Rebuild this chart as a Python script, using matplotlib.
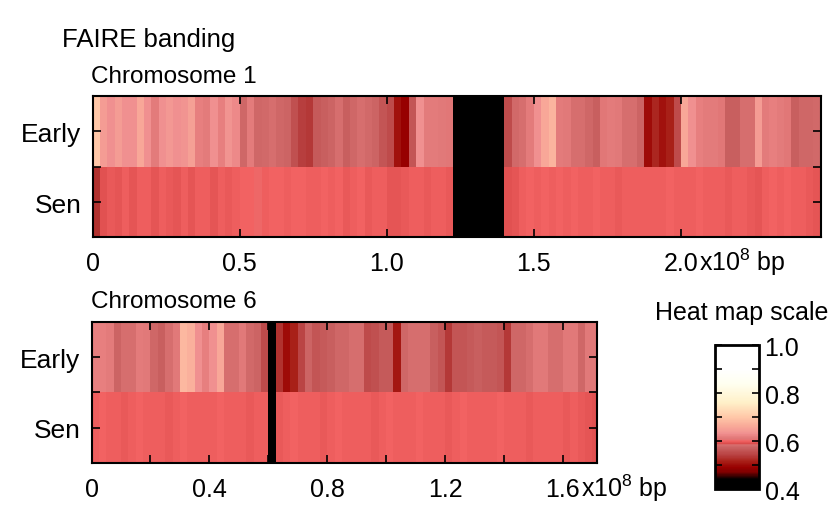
import numpy as np
import matplotlib
matplotlib.use('Agg')
import matplotlib.pyplot as plt
from matplotlib.colors import LinearSegmentedColormap, Normalize
from matplotlib.ticker import FixedLocator

plt.rcParams['font.family'] = ['Liberation Sans', 'DejaVu Sans']
plt.rcParams['mathtext.fontset'] = 'custom'
plt.rcParams['mathtext.rm'] = 'Liberation Sans'
plt.rcParams['mathtext.it'] = 'Liberation Sans'

nan = np.nan
bin_mb = 2.5  # bin width in Mb

# chromosome 1, 2.5 Mb bins (nan = no data, drawn black)
chr1_early = [0.70, 0.645, 0.63, 0.645, 0.63, 0.63, 0.66, 0.63, 0.615, 0.63,
              0.64, 0.63, 0.635, 0.65, 0.62, 0.615, 0.63, 0.62, 0.635, 0.625,
              0.578, 0.615, 0.578, 0.58, 0.583, 0.578, 0.574, 0.555, 0.54, 0.535,
              0.565, 0.57, 0.574, 0.583, 0.57, 0.578, 0.585, 0.58, 0.574, 0.56,
              0.55, 0.505, 0.49, 0.56, 0.63, 0.615, 0.615, 0.612, 0.61,
              nan, nan, nan, nan, nan, nan, nan,
              0.55, 0.58, 0.583, 0.615, 0.63, 0.66, 0.675, 0.615, 0.612, 0.583,
              0.583, 0.578, 0.57, 0.61, 0.615, 0.612, 0.585, 0.583, 0.574, 0.50,
              0.52, 0.505, 0.515, 0.55, 0.66, 0.63, 0.62, 0.615, 0.615, 0.61,
              0.57, 0.57, 0.583, 0.583, 0.645, 0.615, 0.618, 0.615, 0.61, 0.57,
              0.578, 0.578, 0.58]
chr1_sen = [0.53, 0.592, 0.596, 0.594, 0.598, 0.593, 0.597, 0.599, 0.594, 0.598,
            0.596, 0.593, 0.598, 0.594, 0.597, 0.599, 0.593, 0.597, 0.595, 0.598,
            0.601, 0.600, 0.602, 0.599, 0.601, 0.600, 0.598, 0.600, 0.601, 0.599,
            0.597, 0.600, 0.598, 0.600, 0.596, 0.599, 0.600, 0.595, 0.597, 0.598,
            0.594, 0.593, 0.595, 0.597, 0.598, 0.596, 0.598, 0.597, 0.596,
            nan, nan, nan, nan, nan, nan, nan,
            0.590, 0.593, 0.597, 0.600, 0.599, 0.601, 0.599, 0.600, 0.598, 0.600,
            0.597, 0.599, 0.600, 0.598, 0.599, 0.596, 0.598, 0.597, 0.599, 0.597,
            0.598, 0.599, 0.600, 0.598, 0.599, 0.598, 0.600, 0.597, 0.599, 0.598,
            0.596, 0.597, 0.599, 0.595, 0.593, 0.598, 0.600, 0.599, 0.601, 0.598,
            0.597, 0.596, 0.594]

# chromosome 6
chr6_early = [0.62, 0.62, 0.615, 0.574, 0.583, 0.583, 0.615, 0.612, 0.578, 0.57,
              0.583, 0.612, 0.68, 0.67, 0.63, 0.62, 0.63, 0.66, 0.583, 0.585,
              0.612, 0.58, 0.574, 0.55, nan, 0.53, 0.50, 0.515, 0.545, 0.574,
              0.56, 0.565, 0.57, 0.578, 0.578, 0.583, 0.585, 0.55, 0.555, 0.565,
              0.565, 0.51, 0.578, 0.585, 0.583, 0.585, 0.57, 0.56, 0.535, 0.56,
              0.56, 0.565, 0.57, 0.565, 0.565, 0.56, 0.535, 0.578, 0.578, 0.583,
              0.612, 0.612, 0.583, 0.583, 0.612, 0.612, 0.578, 0.612, 0.612]
chr6_sen = [0.598, 0.600, 0.597, 0.599, 0.596, 0.598, 0.600, 0.597, 0.599, 0.598,
            0.596, 0.599, 0.600, 0.598, 0.597, 0.599, 0.598, 0.600, 0.597, 0.598,
            0.599, 0.596, 0.598, 0.597, nan, 0.596, 0.598, 0.600, 0.597, 0.599,
            0.598, 0.596, 0.599, 0.600, 0.598, 0.597, 0.599, 0.598, 0.596, 0.598,
            0.600, 0.599, 0.597, 0.598, 0.600, 0.598, 0.597, 0.599, 0.596, 0.598,
            0.600, 0.598, 0.597, 0.599, 0.598, 0.600, 0.597, 0.598, 0.599, 0.596,
            0.598, 0.597, 0.599, 0.598, 0.596, 0.597, 0.595, 0.593, 0.590]

rows = ['Sen', 'Early']
chr1_len = 247.5
chr6_len = 171.5
chr1_ticks = [0, 50, 100, 150, 200]
chr1_labels = ['0', '0.5', '1.0', '1.5', '2.0']
chr6_ticks = [0, 40, 80, 120, 160]
chr6_labels = ['0', '0.4', '0.8', '1.2', '1.6']
chr6_minor = [20, 60, 100, 140]
cb_ticks = [0.4, 0.6, 0.8, 1.0]
cb_labels = ['0.4', '0.6', '0.8', '1.0']

# heat map colours, stops given on the 0.4..1.0 scale
stops = [(0.40, '#000000'), (0.44, '#000000'), (0.47, '#800000'),
         (0.49, '#980000'), (0.515, '#a82018'), (0.54, '#b84040'),
         (0.57, '#c86060'), (0.585, '#d87070'), (0.588, '#dc4c4c'),
         (0.60, '#f26262'), (0.61, '#e07878'), (0.62, '#e88080'),
         (0.63, '#f09090'), (0.66, '#f8a898'), (0.70, '#ffc8a8'),
         (0.76, '#fff0c8'), (0.84, '#fffff0'), (0.90, '#ffffff'),
         (1.00, '#ffffff')]
cmap = LinearSegmentedColormap.from_list(
    'faire', [((v - 0.4) / 0.6, c) for v, c in stops])
cmap.set_bad('black')
norm = Normalize(0.4, 1.0)

fig = plt.figure(figsize=(8.35, 5.06), dpi=100)
fs = 18


def draw_chrom(rect, early, sen, length, ticks, labels, minor=None):
    ax = fig.add_axes(rect)
    data = np.ma.masked_invalid(np.array([sen, early]))
    xe = np.arange(len(early) + 1) * bin_mb
    ax.pcolormesh(xe, [0, 1, 2], data, cmap=cmap, norm=norm)
    ax.set_xlim(0, length)
    ax.set_ylim(0, 2)
    ax.set_xticks(ticks)
    ax.set_xticklabels(labels)
    if minor:
        ax.xaxis.set_minor_locator(FixedLocator(minor))
    ax.set_yticks([0.5, 1.5])
    ax.set_yticklabels(rows)
    ax.yaxis.set_minor_locator(FixedLocator([1.0]))
    ax.tick_params(which='both', direction='in', top=True, right=True,
                   length=6, width=1.2)
    ax.tick_params(axis='x', labelsize=fs, pad=10)
    ax.tick_params(axis='y', labelsize=19, pad=8)
    for s in ax.spines.values():
        s.set_linewidth(1.5)
    return ax


ax1 = draw_chrom([0.1108, 0.5287, 0.8721, 0.2796], chr1_early, chr1_sen,
                 chr1_len, chr1_ticks, chr1_labels)
ax6 = draw_chrom([0.1096, 0.0830, 0.6050, 0.2787], chr6_early, chr6_sen,
                 chr6_len, chr6_ticks, chr6_labels, chr6_minor)

ax1.annotate('x10$^{8}$ bp', xy=(200, 0), xycoords=('data', 'axes fraction'),
             xytext=(13, -6), textcoords='offset points', ha='left', va='top',
             fontsize=fs)
ax6.annotate('x10$^{8}$ bp', xy=(160, 0), xycoords=('data', 'axes fraction'),
             xytext=(13, -6), textcoords='offset points', ha='left', va='top',
             fontsize=fs)

fig.text(0.074, 1 - 40 / 506, 'FAIRE banding', fontsize=18.5, va='center')
fig.text(0.109, 1 - 77 / 506, 'Chromosome 1', fontsize=17.5, va='center')
fig.text(0.109, 1 - 302 / 506, 'Chromosome 6', fontsize=17.5, va='center')
fig.text(742 / 835, 1 - 313 / 506, 'Heat map scale', fontsize=18,
         va='center', ha='center')

cax = fig.add_axes([0.8563, 0.0316, 0.0527, 0.2846])
sm = plt.cm.ScalarMappable(norm=norm, cmap=cmap)
cb = fig.colorbar(sm, cax=cax)
cb.set_ticks(cb_ticks)
cb.set_ticklabels(cb_labels)
cax.yaxis.set_minor_locator(FixedLocator([0.5, 0.7, 0.9]))
cax.tick_params(which='both', direction='in', left=True, right=True,
                length=5, width=1.2, labelsize=fs, pad=4)
cb.outline.set_linewidth(2)

fig.savefig('out.png', dpi=100)
